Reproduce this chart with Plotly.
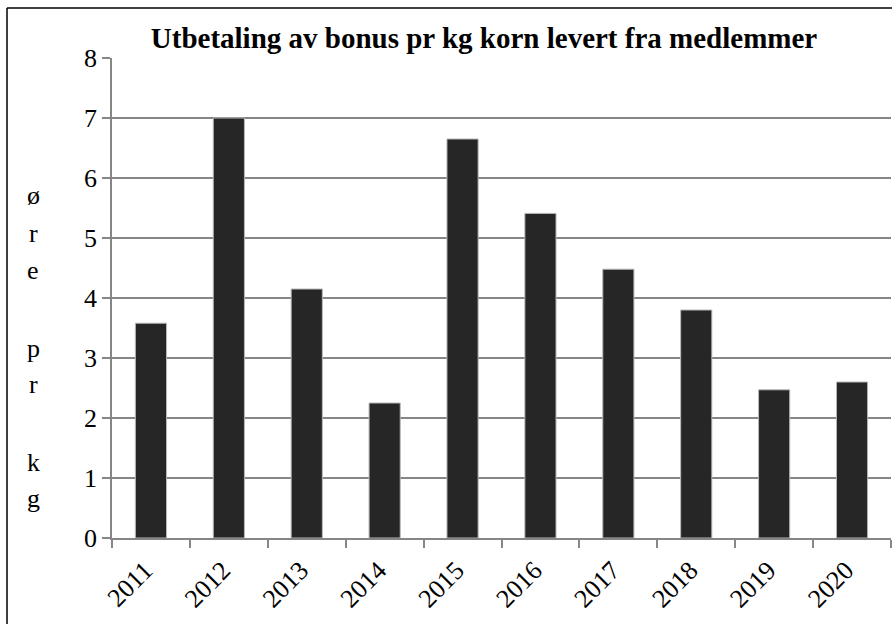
import plotly.graph_objects as go

years = ["2011", "2012", "2013", "2014", "2015", "2016", "2017", "2018", "2019", "2020"]
bonus = [3.58, 7.0, 4.15, 2.25, 6.65, 5.41, 4.48, 3.8, 2.47, 2.6]
title_text = "Utbetaling av bonus pr kg korn levert fra medlemmer"
ylabel_chars = ["ø", "r", "e", "p", "r", "k", "g"]
ylabel_pos = [195, 233, 270, 348, 384, 462, 498]  # pixel rows (layout)

W, H = 892, 624
ML, MR, MT, MB = 112, 1, 58, 86
PW, PH = W - ML - MR, H - MT - MB
FONT = "Liberation Serif"

fig = go.Figure(go.Bar(
    x=years, y=bonus,
    marker=dict(color="#262626", line=dict(color="#b8b8b8", width=1)),
    width=0.4,
))

def px_x(p):
    return (p - ML) / PW

def px_y(p):
    return (H - MB - p) / PH

annotations = []
for ch, yp in zip(ylabel_chars, ylabel_pos):
    annotations.append(dict(
        text=ch, xref="paper", yref="paper", x=px_x(33), y=px_y(yp),
        xanchor="center", yanchor="middle", showarrow=False,
        font=dict(family=FONT, size=26, color="black"),
    ))

shapes = [
    dict(type="line", xref="paper", yref="paper",
         x0=px_x(7), x1=px_x(7), y0=px_y(8), y1=px_y(640),
         line=dict(color="black", width=1.5)),
    dict(type="line", xref="paper", yref="paper",
         x0=px_x(7), x1=px_x(900), y0=px_y(8), y1=px_y(8),
         line=dict(color="black", width=1.5)),
]

fig.update_layout(
    width=W, height=H,
    margin=dict(l=ML, r=MR, t=MT, b=MB),
    paper_bgcolor="white", plot_bgcolor="white",
    showlegend=False,
    title=dict(text="<b>" + title_text + "</b>", x=484 / W, xanchor="center",
               xref="container", yref="container", y=1 - 38 / H, yanchor="middle",
               font=dict(family=FONT, size=29, color="black")),
    font=dict(family=FONT, color="black"),
    annotations=annotations,
    shapes=shapes,
)

fig.update_xaxes(
    type="category", tickangle=-45, tickson="boundaries",
    ticks="outside", ticklen=8, tickcolor="#868686", tickwidth=1.5,
    showline=True, linecolor="#868686", linewidth=1.5,
    showgrid=False, ticklabelshift=-6, ticklabelstandoff=5,
    tickfont=dict(family=FONT, size=26, color="black"),
)
fig.update_yaxes(
    range=[0, 8], dtick=1, tick0=0,
    ticks="outside", ticklen=8, tickcolor="#868686", tickwidth=1.5,
    showline=True, linecolor="#868686", linewidth=1.5,
    showgrid=True, gridcolor="#868686", gridwidth=1.5,
    zeroline=False,
    tickfont=dict(family=FONT, size=26, color="black"),
)

fig.write_html("out.html", config={"displayModeBar": False},
               post_script="document.body.style.margin='0';document.body.style.overflow='hidden';")
